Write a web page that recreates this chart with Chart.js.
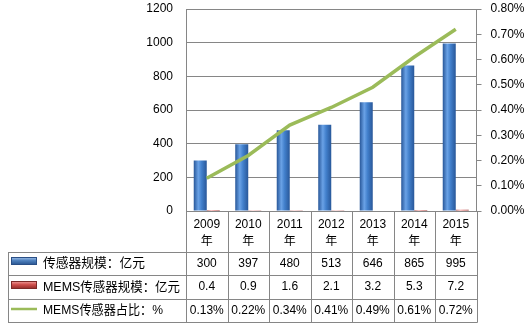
<!DOCTYPE html>
<html><head><meta charset="utf-8">
<script src="https://cdn.jsdelivr.net/npm/chart.js@4"></script>
<style>html,body{margin:0;padding:0;background:#fff;}#wrap{width:529px;height:326px;}</style>
</head><body><div id="wrap"><canvas id="c" width="529" height="326"></canvas></div>
<script>
const categories = ['2009','2010','2011','2012','2013','2014','2015'];
const yearSuffix = '年';
const sensorScale = [300,397,480,513,646,865,995];
const memsScale = [0.4,0.9,1.6,2.1,3.2,5.3,7.2];
const memsShare = [0.13,0.22,0.34,0.41,0.49,0.61,0.72];
const rowLabels = ['传感器规模：亿元','MEMS传感器规模：亿元','MEMS传感器占比：%'];
const leftAxis = {min:0, max:1200, step:200};
const rightAxis = {min:0, max:0.8, step:0.1};

const FONT = '"Liberation Sans","Noto Sans CJK SC",sans-serif';
const GRID = '#868686';
const CAT_PCT = 0.627;

function barGradient(ctx, dsIndex, light, mid, dark){
  const chart = ctx.chart;
  const x = chart.scales.x;
  if (!chart.chartArea || !x) return mid;
  const colW = x.width / categories.length;
  const bw = colW * CAT_PCT / 2;
  const c = x.getPixelForValue(ctx.dataIndex);
  const left = dsIndex === 0 ? c - bw : c;
  const g = chart.ctx.createLinearGradient(left, 0, left + bw, 0);
  g.addColorStop(0, dark);
  g.addColorStop(0.35, light);
  g.addColorStop(0.6, mid);
  g.addColorStop(1, dark);
  return g;
}

const tablePlugin = {
  id:'table',
  afterDraw(chart){
    const {ctx, chartArea:a, scales:{x}} = chart;
    const n = categories.length;
    const colW = x.width / n;
    const L = 8;
    const rows = [252, 275, 299, 322];
    const px = v => Math.round(v) + 0.5;
    ctx.save();
    ctx.strokeStyle = GRID; ctx.lineWidth = 1;
    ctx.beginPath();
    rows.forEach(r => { ctx.moveTo(L, px(r)); ctx.lineTo(px(a.right), px(r)); });
    ctx.moveTo(px(L), px(rows[0])); ctx.lineTo(px(L), px(rows[3]));
    for (let i = 0; i <= n; i++) {
      const xx = px(a.left + i * colW);
      ctx.moveTo(xx, a.bottom); ctx.lineTo(xx, px(rows[3]));
    }
    ctx.stroke();

    let g = ctx.createLinearGradient(0, 257, 0, 265);
    g.addColorStop(0, '#a8c6ee'); g.addColorStop(0.45, '#4f81bd'); g.addColorStop(1, '#24508c');
    ctx.fillStyle = g; ctx.fillRect(11, 257, 26, 8);
    ctx.strokeStyle = '#2a4f86'; ctx.strokeRect(11.5, 257.5, 25, 7);
    g = ctx.createLinearGradient(0, 281, 0, 289);
    g.addColorStop(0, '#f4a6a4'); g.addColorStop(0.45, '#d0504d'); g.addColorStop(1, '#8c2826');
    ctx.fillStyle = g; ctx.fillRect(11, 281, 26, 8);
    ctx.strokeStyle = '#7e2a28'; ctx.strokeRect(11.5, 281.5, 25, 7);
    ctx.strokeStyle = '#9bbb59'; ctx.lineWidth = 2.5;
    ctx.beginPath(); ctx.moveTo(11, 309); ctx.lineTo(37, 309); ctx.stroke();

    ctx.fillStyle = '#000';
    ctx.font = '13px ' + FONT;
    ctx.textAlign = 'left'; ctx.textBaseline = 'middle';
    const mids = [263.5, 287, 310.5];
    const maxW = [102, 137, 120];
    rowLabels.forEach((t, i) => ctx.fillText(t, 43, mids[i], maxW[i]));
    ctx.font = '12px ' + FONT;
    ctx.textAlign = 'center';
    const vals = [sensorScale.map(String), memsScale.map(v => v.toFixed(1)), memsShare.map(v => v.toFixed(2) + '%')];
    vals.forEach((row, r) => row.forEach((t, i) => ctx.fillText(t, x.getPixelForValue(i), mids[r])));
    ctx.restore();
  }
};

new Chart(document.getElementById('c'), {
  type:'bar',
  data:{
    labels: categories.map(c => [c, yearSuffix]),
    datasets:[
      {label:rowLabels[2], type:'line', data:memsShare, yAxisID:'y1', borderColor:'#9bbb59', borderWidth:3.5, pointRadius:0, tension:0, order:0},
      {label:rowLabels[0], data:sensorScale, yAxisID:'y', order:1,
        backgroundColor: c => barGradient(c, 0, '#6aa2e6', '#4280cc', '#285799')},
      {label:rowLabels[1], data:memsScale, yAxisID:'y', order:1,
        backgroundColor: c => barGradient(c, 1, '#f08a88', '#d0504d', '#8c2826')}
    ]
  },
  options:{
    responsive:false, animation:false, devicePixelRatio:1,
    layout:{padding:{top:9, left:0, right:0, bottom:0}},
    datasets:{bar:{categoryPercentage:CAT_PCT, barPercentage:1}},
    plugins:{legend:{display:false}, tooltip:{enabled:false}},
    scales:{
      x:{
        grid:{display:false, drawTicks:false}, border:{display:false},
        ticks:{color:'#000', font:{size:12, family:FONT, lineHeight:1.35}, padding:6, maxRotation:0, autoSkip:false},
        afterFit: s => { s.height = 115; s.paddingLeft = 0; s.paddingRight = 0; }
      },
      y:{
        position:'left', min:leftAxis.min, max:leftAxis.max,
        grid:{color:GRID, drawTicks:false}, border:{color:GRID},
        ticks:{stepSize:leftAxis.step, color:'#000', font:{size:12, family:FONT}, padding:13,
          callback: v => String(v)},
        afterFit: s => { s.width = 186; s.paddingTop = 0; s.paddingBottom = 0; }
      },
      y1:{
        position:'right', min:rightAxis.min, max:rightAxis.max,
        grid:{drawOnChartArea:false, color:GRID, tickLength:5}, border:{color:GRID},
        ticks:{stepSize:rightAxis.step, color:'#000', font:{size:12, family:FONT}, padding:9,
          callback: v => v.toFixed(2) + '%'},
        afterFit: s => { s.width = 52.5; s.paddingTop = 0; s.paddingBottom = 0; }
      }
    }
  },
  plugins:[tablePlugin]
});
</script></body></html>
